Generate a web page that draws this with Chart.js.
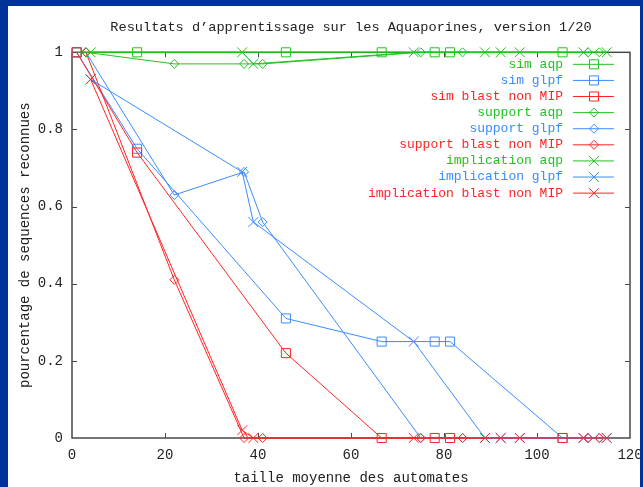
<!DOCTYPE html>
<html>
<head>
<meta charset="utf-8">
<script src="https://cdn.jsdelivr.net/npm/chart.js@4.4.1/dist/chart.umd.min.js"></script>
<style>
  html, body { margin: 0; padding: 0; background: #003399; }
  body { width: 643px; height: 487px; position: relative; overflow: hidden; }
  #aqpChart { position: absolute; left: 8px; top: 6px; background: #fff; }
</style>
</head>
<body>
<canvas id="aqpChart" width="632" height="481"></canvas>
<script>
// tailles moyennes des automates (axe x), par methode
const simSizes = [1, 14, 46, 66.6, 78, 81.3, 105.5];
const supportSizes = [3, 22, 37, 41, 75, 84, 111, 113.4];
const implicationSizes = [4, 36.6, 39, 73.5, 88.8, 92.2, 96.3, 110, 115];

// pourcentage de sequences reconnues
const simAqp = [1, 1, 1, 1, 1, 1, 1];
const simGlpf = [1, 0.75, 0.31, 0.25, 0.25, 0.25, 0];
const simBlast = [1, 0.74, 0.22, 0, 0, 0, 0];
const supportAqp = [1, 0.97, 0.97, 0.97, 1, 1, 1, 1];
const supportGlpf = [1, 0.63, 0.69, 0.56, 0, 0, 0, 0];
const supportBlast = [1, 0.41, 0, 0, 0, 0, 0, 0];
const implicationAqp = [1, 1, 0.97, 1, 1, 1, 1, 1, 1];
const implicationGlpf = [0.93, 0.69, 0.56, 0.25, 0, 0, 0, 0, 0];
const implicationBlast = [0.93, 0.02, 0, 0, 0, 0, 0, 0, 0];

const xTicks = [0, 20, 40, 60, 80, 100, 120];
const yTicks = [0, 0.2, 0.4, 0.6, 0.8, 1];

const green = '#22c322';
const blue = '#3a8cff';
const red = '#ff2424';
const monoFont = '"Liberation Mono", "DejaVu Sans Mono", monospace';

function series(label, xs, ys, color, style, radius) {
    return {
        label: label,
        data: xs.map((x, i) => ({ x: x, y: ys[i] })),
        borderColor: color,
        backgroundColor: 'rgba(0,0,0,0)',
        borderWidth: 1,
        pointStyle: style,
        pointRadius: radius,
        pointBorderWidth: 1,
        pointBorderColor: color,
        pointBackgroundColor: 'rgba(0,0,0,0)',
        tension: 0,
        fill: false,
        clip: false
    };
}

const datasets = [
    series('sim aqp', simSizes, simAqp, green, 'rect', 6.4),
    series('sim glpf', simSizes, simGlpf, blue, 'rect', 6.4),
    series('sim blast non MIP', simSizes, simBlast, red, 'rect', 6.4),
    series('support aqp', supportSizes, supportAqp, green, 'rectRot', 4.5),
    series('support glpf', supportSizes, supportGlpf, blue, 'rectRot', 4.5),
    series('support blast non MIP', supportSizes, supportBlast, red, 'rectRot', 4.5),
    series('implication aqp', implicationSizes, implicationAqp, green, 'crossRot', 7),
    series('implication glpf', implicationSizes, implicationGlpf, blue, 'crossRot', 7),
    series('implication blast non MIP', implicationSizes, implicationBlast, red, 'crossRot', 7)
];
// gnuplot trace dans l'ordre, les derniers par-dessus
datasets.forEach((ds, i) => { ds.order = datasets.length - i; });

// cadre complet + graduations vers l'interieur (style gnuplot)
const framePlugin = {
    id: 'frame',
    beforeDatasetsDraw(chart) {
        const { ctx, chartArea: a, scales } = chart;
        ctx.save();
        ctx.strokeStyle = '#4a4a4a';
        ctx.lineWidth = 1.5;
        ctx.strokeRect(a.left, a.top, a.right - a.left, a.bottom - a.top);
        ctx.lineWidth = 1;
        ctx.beginPath();
        xTicks.slice(1, -1).forEach(v => {
            const px = Math.round(scales.x.getPixelForValue(v)) + 0.5;
            ctx.moveTo(px, a.bottom); ctx.lineTo(px, a.bottom - 5);
            ctx.moveTo(px, a.top); ctx.lineTo(px, a.top + 5);
        });
        yTicks.slice(1, -1).forEach(v => {
            const py = Math.round(scales.y.getPixelForValue(v)) + 0.5;
            ctx.moveTo(a.left, py); ctx.lineTo(a.left + 5, py);
            ctx.moveTo(a.right, py); ctx.lineTo(a.right - 5, py);
        });
        ctx.stroke();
        ctx.restore();
    }
};

function markerAt(ctx, style, radius, x, y) {
    if (Chart.helpers && Chart.helpers.drawPoint) {
        Chart.helpers.drawPoint(ctx, { pointStyle: style, radius: radius, borderWidth: 1, rotation: 0 }, x, y);
        return;
    }
    ctx.beginPath();
    if (style === 'rect') {
        const s = radius * Math.SQRT1_2;
        ctx.rect(x - s, y - s, 2 * s, 2 * s);
    } else if (style === 'rectRot') {
        ctx.moveTo(x - radius, y); ctx.lineTo(x, y - radius);
        ctx.lineTo(x + radius, y); ctx.lineTo(x, y + radius); ctx.closePath();
    } else {
        const s = radius * Math.SQRT1_2;
        ctx.moveTo(x - s, y - s); ctx.lineTo(x + s, y + s);
        ctx.moveTo(x - s, y + s); ctx.lineTo(x + s, y - s);
    }
    ctx.stroke();
}

// legende dans le coin haut droit, texte aligne a droite
const legendPlugin = {
    id: 'insideLegend',
    afterDatasetsDraw(chart) {
        const { ctx, chartArea: a } = chart;
        ctx.save();
        ctx.font = '13px ' + monoFont;
        ctx.textAlign = 'right';
        ctx.textBaseline = 'middle';
        chart.data.datasets.forEach((ds, i) => {
            const y = a.top + 12 + i * 16.1;
            ctx.fillStyle = ds.borderColor;
            ctx.fillText(ds.label, a.right - 67, y);
            ctx.strokeStyle = ds.borderColor;
            ctx.lineWidth = 1;
            ctx.beginPath();
            ctx.moveTo(a.right - 57, y);
            ctx.lineTo(a.right - 16, y);
            ctx.stroke();
            ctx.fillStyle = 'rgba(0,0,0,0)';
            markerAt(ctx, ds.pointStyle, ds.pointRadius, a.right - 36, y);
        });
        ctx.restore();
    }
};

const ctx = document.getElementById('aqpChart').getContext('2d');
new Chart(ctx, {
    type: 'line',
    data: { datasets: datasets },
    options: {
        responsive: false,
        animation: false,
        layout: { padding: { top: 0, right: 10, bottom: 0, left: 0 } },
        plugins: {
            legend: { display: false },
            tooltip: { enabled: false },
            title: {
                display: true,
                fullSize: false,
                text: 'Resultats d\u2019apprentissage sur les Aquaporines, version 1/20',
                color: '#222',
                font: { family: monoFont, size: 13.6, weight: 'normal' },
                padding: { top: 13, bottom: 17 }
            }
        },
        scales: {
            x: {
                type: 'linear',
                min: 0,
                max: 120,
                afterBuildTicks(scale) { scale.ticks = xTicks.map(v => ({ value: v })); },
                ticks: { color: '#222', padding: 9, font: { family: monoFont, size: 14 }, callback: v => String(v) },
                grid: { display: false, drawTicks: false },
                border: { display: false },
                title: {
                    display: true,
                    text: 'taille moyenne des automates',
                    color: '#222',
                    font: { family: monoFont, size: 14 },
                    padding: { top: 0, bottom: 0 }
                },
                afterFit(scale) { scale.height = 49; scale.paddingLeft = 0; scale.paddingRight = 0; }
            },
            y: {
                type: 'linear',
                min: 0,
                max: 1,
                afterBuildTicks(scale) { scale.ticks = yTicks.map(v => ({ value: v })); },
                ticks: { color: '#222', padding: 9, font: { family: monoFont, size: 14 }, callback: v => String(v) },
                grid: { display: false, drawTicks: false },
                border: { display: false },
                title: {
                    display: true,
                    text: 'pourcentage de sequences reconnues',
                    color: '#222',
                    font: { family: monoFont, size: 14 },
                    padding: { top: 9, bottom: 0 }
                },
                afterFit(scale) { scale.width = 64; scale.paddingTop = 0; scale.paddingBottom = 0; }
            }
        }
    },
    plugins: [framePlugin, legendPlugin]
});
</script>
</body>
</html>
